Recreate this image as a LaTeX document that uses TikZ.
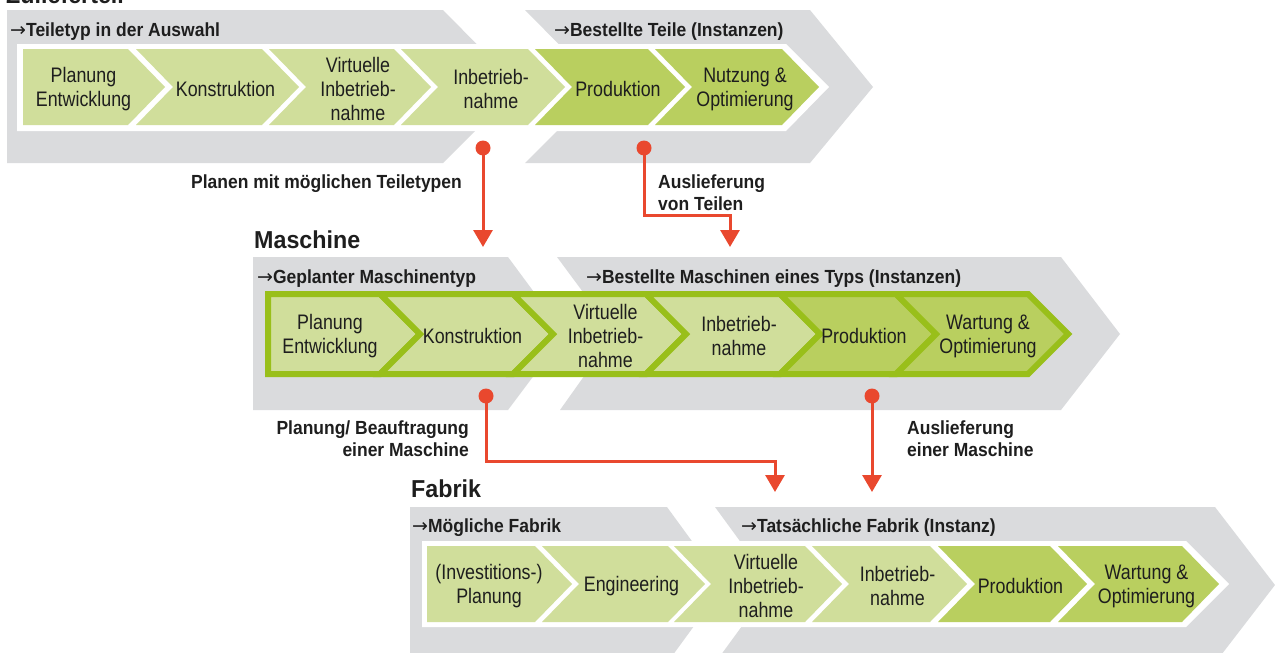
\documentclass[tikz,border=0pt]{standalone}
\usepackage{fontspec}
\setmainfont{Liberation Sans}
\newfontfamily\stagefont{Liberation Sans}[FakeStretch=0.85]
\newfontfamily\tagfont{Liberation Sans}[FakeStretch=0.92]
\newfontfamily\headfont{Liberation Sans}[FakeStretch=0.95]
\newfontfamily\arrowfont{DejaVu Sans}
\newcommand\tagarrow{{\arrowfont\mdseries\fontsize{19}{22}\selectfont →}}
\usetikzlibrary{arrows.meta}
\definecolor{bandgray}{RGB}{218,219,221}
\definecolor{stagelight}{RGB}{208,222,155}
\definecolor{stagedark}{RGB}{185,207,95}
\definecolor{stageline}{RGB}{153,191,26}
\definecolor{flowred}{RGB}{233,72,46}
\definecolor{inktext}{RGB}{30,30,30}
\begin{document}
\begin{tikzpicture}
[x=1pt,y=-1pt,
  bandshape/.style={fill=bandgray},
  stripshape/.style={fill=white},
  stagetext/.style={align=center,text=inktext,inner sep=0pt,
    font=\stagefont\fontsize{21}{24}\selectfont},
  tagtext/.style={anchor=base west,text=inktext,inner sep=0pt,
    font=\tagfont\bfseries\fontsize{19}{22}\selectfont},
  headtext/.style={anchor=base west,text=inktext,inner sep=0pt,
    font=\headfont\bfseries\fontsize{24.5}{28}\selectfont},
  flowtext/.style={text=inktext,inner sep=0pt,
    font=\tagfont\bfseries\fontsize{19}{22}\selectfont},
  flowarrow/.style={draw=flowred,line width=3pt,
    -{Triangle[width=19pt,length=17pt]}},
  flowdot/.style={circle,fill=flowred,inner sep=0pt,minimum size=15pt}]
\useasboundingbox (0,0) rectangle (1275,653);
%% gray bands
\path[bandshape] (7,10) -- (443,10) -- (519,87) -- (443,163) -- (7,163) -- cycle;
\path[bandshape] (525,10) -- (810,10) -- (873,87) -- (810,163) -- (525,163)
  -- (601,87) -- cycle;
\path[bandshape] (253,257) -- (508,257) -- (565,334) -- (508,410) -- (253,410)
  -- cycle;
\path[bandshape] (557,257) -- (1061,257) -- (1120,334) -- (1061,410)
  -- (560,410) -- (614,334) -- cycle;
\path[bandshape] (410,507) -- (667,507) -- (724,585) -- (667,663) -- (410,663)
  -- cycle;
\path[bandshape] (715,507) -- (1215,507) -- (1275,585) -- (1215,663)
  -- (715,663) -- (772,585) -- cycle;
%% white strips
\path[stripshape] (17,44) -- (786,44) -- (829,87) -- (786,131) -- (17,131)
  -- cycle;
\path[stripshape] (422,541) -- (1186,541) -- (1229,584) -- (1186,627)
  -- (422,627) -- cycle;
%% headings and tags
\node[headtext] (headZ) at (6,4) {Zulieferteil};
\node[headtext] (headM) at (254,248) {Maschine};
\node[headtext] (headF) at (411,497) {Fabrik};
\node[tagtext] (tagZa) at (10,36) {\tagarrow Teiletyp in der Auswahl};
\node[tagtext] (tagZb) at (554,36) {\tagarrow Bestellte Teile (Instanzen)};
\node[tagtext] (tagMa) at (257,283) {\tagarrow Geplanter Maschinentyp};
\node[tagtext] (tagMb) at (586,283)
  {\tagarrow Bestellte Maschinen eines Typs (Instanzen)};
\node[tagtext] (tagFa) at (412,532) {\tagarrow Mögliche Fabrik};
\node[tagtext] (tagFb) at (741,532) {\tagarrow Tatsächliche Fabrik (Instanz)};
%% stages of the Zulieferteil
\foreach \name/\xl/\xr/\dn/\fillc/\txt in {
  z1/23/128/0/stagelight/{Planung\\Entwicklung},
  z2/136/262/37/stagelight/{Konstruktion},
  z3/269/394/37/stagelight/{Virtuelle\\Inbetrieb-\\nahme},
  z4/401/528/37/stagelight/{Inbetrieb-\\nahme},
  z5/535/648/37/stagedark/{Produktion},
  z6/655/782/37/stagedark/{Nutzung \&\\Optimierung}}
{
  \path[fill=\fillc] (\xl,49) -- (\xr,49) -- (\xr+37,87) -- (\xr,125)
    -- (\xl,125) -- (\xl+\dn,87) -- cycle;
  \node[stagetext] (\name) at ({(\xl+\xr+\dn)/2+8},89) {\txt};
}
%% stages of the Maschine
\foreach \name/\xl/\xr/\dn/\fillc/\txt in {
  m1/268/380/0/stagelight/{Planung\\Entwicklung},
  m2/380/513/40/stagelight/{Konstruktion},
  m3/513/646/40/stagelight/{Virtuelle\\Inbetrieb-\\nahme},
  m4/646/780/40/stagelight/{Inbetrieb-\\nahme},
  m5/780/896/40/stagedark/{Produktion},
  m6/896/1028/40/stagedark/{Wartung \&\\Optimierung}}
{
  \path[fill=\fillc,draw=stageline,line width=6pt] (\xl,294) -- (\xr,294)
    -- (\xr+40,334) -- (\xr,374) -- (\xl,374) -- (\xl+\dn,334) -- cycle;
  \node[stagetext] (\name) at ({(\xl+\xr+\dn)/2+6},336) {\txt};
}
%% stages of the Fabrik
\foreach \name/\xl/\xr/\dn/\fillc/\txt in {
  f1/427/535/0/stagelight/{(Investitions-)\\Planung},
  f2/542/668/37/stagelight/{Engineering},
  f3/674/805/37/stagelight/{Virtuelle\\Inbetrieb-\\nahme},
  f4/812/930/37/stagelight/{Inbetrieb-\\nahme},
  f5/938/1050/37/stagedark/{Produktion},
  f6/1058/1182/37/stagedark/{Wartung \&\\Optimierung}}
{
  \path[fill=\fillc] (\xl,546) -- (\xr,546) -- (\xr+37,584) -- (\xr,622)
    -- (\xl,622) -- (\xl+\dn,584) -- cycle;
  \node[stagetext] (\name) at ({(\xl+\xr+\dn)/2+8},586) {\txt};
}
%% hand-over arrows
\node[flowdot] (dotA) at (483,148) {};
\node[flowdot] (dotB) at (644,148) {};
\node[flowdot] (dotC) at (486,396) {};
\node[flowdot] (dotD) at (872,396) {};
\coordinate (tipA) at (483,247);
\coordinate (bendB) at (730,215);
\coordinate (tipB) at (730,247);
\coordinate (bendC) at (775,461);
\coordinate (tipC) at (775,492);
\coordinate (tipD) at (872,492);
\draw[flowarrow] (dotA.center) -- (tipA);
\draw[flowarrow] (dotB.center) |- (bendB) -- (tipB);
\draw[flowarrow] (dotC.center) |- (bendC) -- (tipC);
\draw[flowarrow] (dotD.center) -- (tipD);
\node[flowtext,anchor=base east] (labA) at (462,188)
  {Planen mit möglichen Teiletypen};
\node[flowtext,align=left,anchor=base west] (labB) at (658,210)
  {Auslieferung\\von Teilen};
\node[flowtext,align=right,anchor=base east] (labC) at (469,456)
  {Planung/ Beauftragung\\einer Maschine};
\node[flowtext,align=left,anchor=base west] (labD) at (907,456)
  {Auslieferung\\einer Maschine};
\end{tikzpicture}
\end{document}
